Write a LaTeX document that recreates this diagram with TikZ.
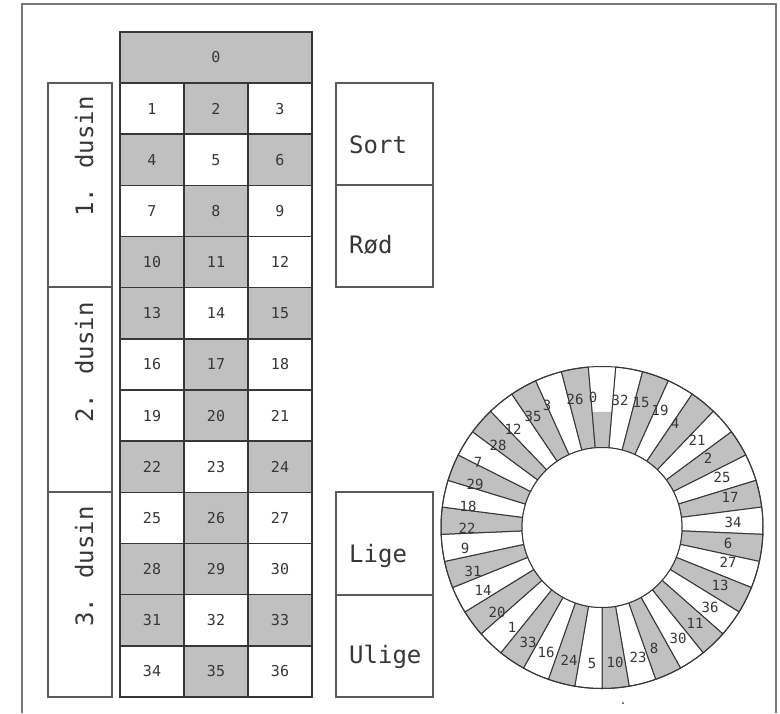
\documentclass[tikz,border=0pt]{standalone}
\usepackage{fontspec}
\newfontfamily\monofam{DejaVu Sans Mono}
\definecolor{pg}{RGB}{192,192,192}
\colorlet{pw}{white}
\definecolor{ln}{RGB}{55,55,55}
\definecolor{fr}{RGB}{120,120,120}
\definecolor{bx}{RGB}{90,90,90}
\begin{document}
\begin{tikzpicture}[x=1pt,y=-1pt,
  cell/.style={draw=ln, line width=1.5pt, minimum width=64pt, minimum height=51.17pt,
    inner sep=0pt, font=\monofam\fontsize{15}{15}\selectfont, text=ln},
  sidebox/.style={draw=bx, line width=1.5pt, inner sep=0pt},
  lab/.style={font=\monofam\fontsize{24}{24}\selectfont, inner sep=0pt, text=ln},
  wnum/.style={font=\monofam\fontsize{14}{14}\selectfont, inner sep=0pt, text=ln},
  pocket/.style={draw=ln, line width=1pt}]
\useasboundingbox (0,0) rectangle (780,713);
\fill[white] (0,0) rectangle (780,713);
% frame
\draw[fr, line width=1.5pt] (22,713) -- (22,4) -- (776,4) -- (776,713);
% zero
\node[cell, fill=pg, minimum width=192pt, minimum height=51pt] (z) at (216,57.5) {0};
% number cells
\foreach \n/\c in {1/pw,2/pg,3/pw,4/pg,5/pw,6/pg,7/pw,8/pg,9/pw,10/pg,11/pg,12/pw,
  13/pg,14/pw,15/pg,16/pw,17/pg,18/pw,19/pw,20/pg,21/pw,22/pg,23/pw,24/pg,
  25/pw,26/pg,27/pw,28/pg,29/pg,30/pw,31/pg,32/pw,33/pg,34/pw,35/pg,36/pw}{
  \pgfmathtruncatemacro\rowi{(\n-1)/3}
  \pgfmathtruncatemacro\coli{\n-1-3*\rowi}
  \node[cell, fill=\c] (c\n) at ({152+64*\coli},{83+51.17*(\rowi+0.5)}) {\n};
}
% dozen boxes
\node[sidebox, minimum width=64pt, minimum height=204pt] (d1) at (80,185) {};
\node[sidebox, minimum width=64pt, minimum height=205pt] (d2) at (80,389.5) {};
\node[sidebox, minimum width=64pt, minimum height=205pt] (d3) at (80,594.5) {};
\node[lab, rotate=90, anchor=base west] (t1) at (93,217) {1. dusin};
\node[lab, rotate=90, anchor=base west] (t2) at (93,423) {2. dusin};
\node[lab, rotate=90, anchor=base west] (t3) at (93,627) {3. dusin};
% colour / parity boxes
\node[sidebox, minimum width=97pt, minimum height=102pt] (bs) at (384.5,134) {};
\node[sidebox, minimum width=97pt, minimum height=102pt] (br) at (384.5,236) {};
\node[sidebox, minimum width=97pt, minimum height=103pt] (bl) at (384.5,543.5) {};
\node[sidebox, minimum width=97pt, minimum height=102pt] (bu) at (384.5,646) {};
\node[lab, anchor=base west] (ts) at (349,153) {Sort};
\node[lab, anchor=base west] (tr) at (349,253) {Rød};
\node[lab, anchor=base west] (tl) at (349,562) {Lige};
\node[lab, anchor=base west] (tu) at (349,663) {Ulige};
% wheel
\begin{scope}[shift={(602,527.5)}]
\foreach \n/\c [count=\k from 1] in {32/pw,15/pg,19/pw,4/pg,21/pw,2/pg,25/pw,17/pg,34/pw,
  6/pg,27/pw,13/pg,36/pw,11/pg,30/pw,8/pg,23/pw,10/pg,5/pw,24/pg,16/pw,33/pg,1/pw,
  20/pg,14/pw,31/pg,9/pw,22/pg,18/pw,29/pg,7/pw,28/pg,12/pw,35/pg,3/pw,26/pg}{
  \pgfmathsetmacro\aa{90-(\k+0.5)*360/37}
  \pgfmathsetmacro\ab{90-(\k-0.5)*360/37}
  \filldraw[pocket, fill=\c] (\aa:80pt) arc[start angle=\aa, end angle=\ab, radius=80pt]
    -- (\ab:161pt) arc[start angle=\ab, end angle=\aa, radius=161pt] -- cycle;
}
\pgfmathsetmacro\za{90-0.5*360/37}
\pgfmathsetmacro\zb{90+0.5*360/37}
\fill[pw] (\za:80pt) arc[start angle=\za, end angle=\zb, radius=80pt]
  -- (\zb:161pt) arc[start angle=\zb, end angle=\za, radius=161pt] -- cycle;
\fill[pg] (\za:79pt) arc[start angle=\za, end angle=\zb, radius=79pt]
  -- (\zb:116pt) -- (\za:116pt) -- cycle;
\draw[pocket] (\za:80pt) -- (\za:161pt) (\zb:80pt) -- (\zb:161pt);
\draw[ln, line width=1pt] (0pt,0pt) circle[radius=161pt];
\draw[ln, line width=1pt, fill=white] (0pt,0pt) circle[radius=80pt];
\end{scope}
\foreach \n/\x/\y in {26/575/399,0/593/397,32/620/400,15/641/402,19/660/410,4/675/423,
  21/697/440,2/708/458,25/722/477,17/730/497,34/733/522,6/728/543,27/728/562,
  13/720/585,36/710/607,11/695/623,30/678/638,8/654/648,23/638/657,10/615/662,
  5/592/663,24/569/660,16/546/652,33/528/642,1/512/627,20/497/612,14/483/590,
  31/473/571,9/465/548,22/467/528,18/468/506,29/475/484,7/478/462,28/498/445,
  12/513/429,35/533/416,3/547/405}{
  \node[wnum] (w\n) at (\x,\y) {\n};
}
\fill[ln] (623,703) circle[radius=1pt];
\end{tikzpicture}
\end{document}
